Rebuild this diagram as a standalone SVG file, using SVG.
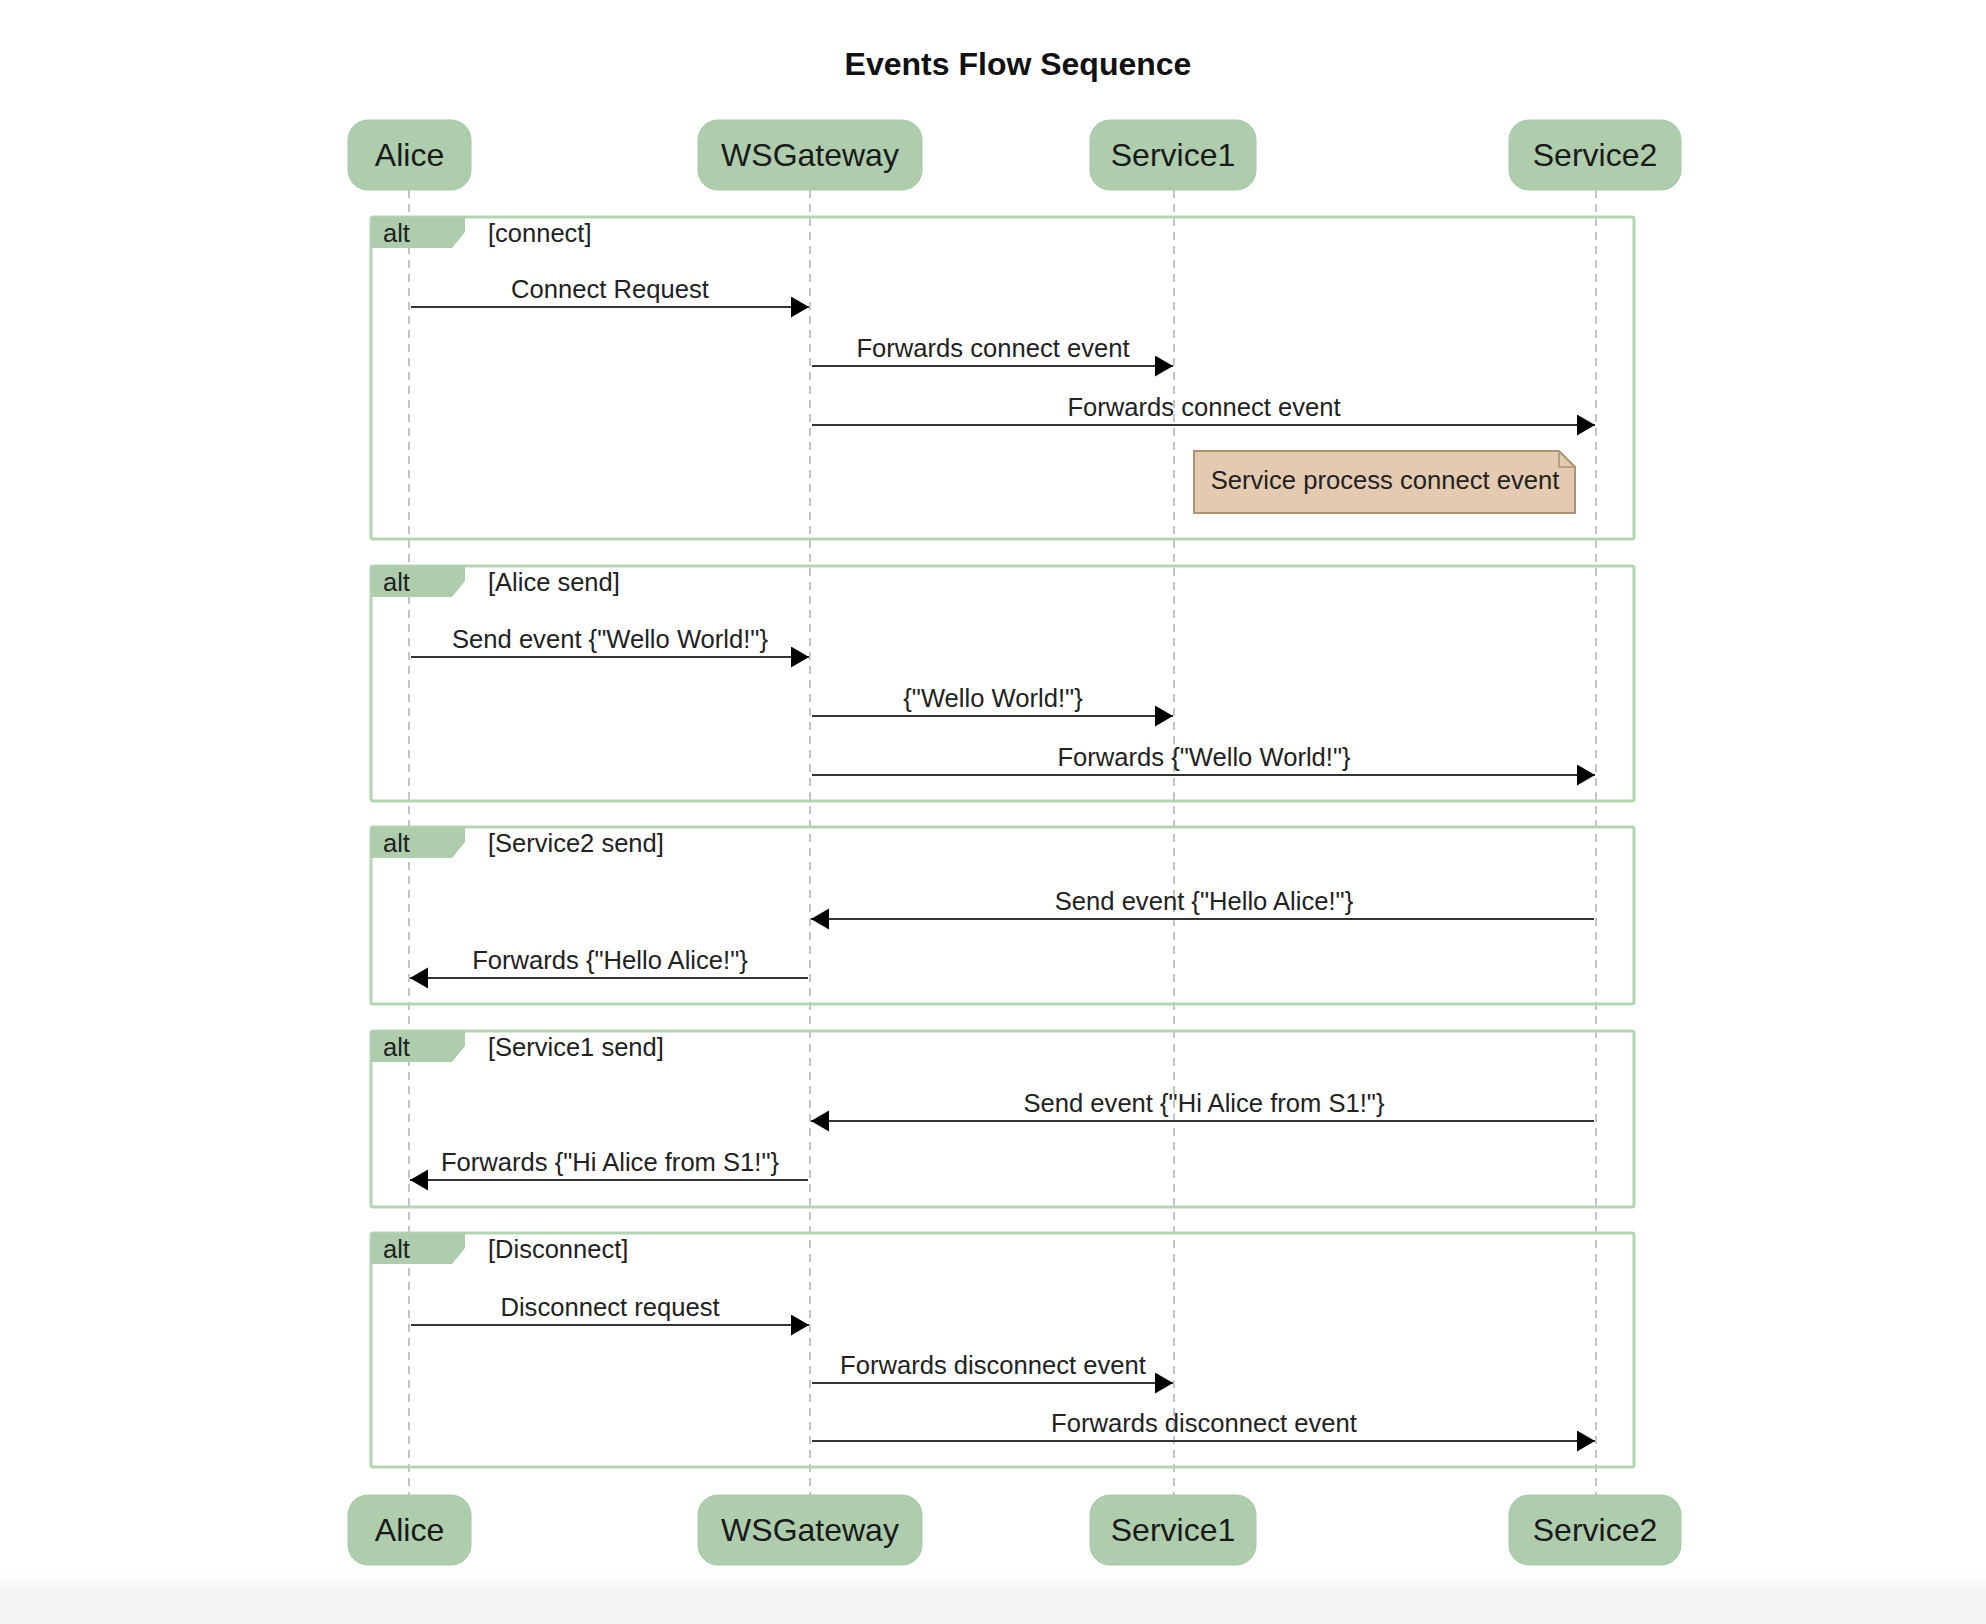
<svg xmlns="http://www.w3.org/2000/svg" width="1986" height="1624" viewBox="0 0 1986 1624">
<defs>
<style>
text{font-family:"Liberation Sans",Arial,sans-serif;fill:#222}
.title{font-size:32px;font-weight:bold;text-anchor:middle;fill:#111}
.pbox{fill:#aecdac;stroke:#a6c8a4;stroke-width:1}
.ptxt{font-size:32px;text-anchor:middle;fill:#1a1a1a}
.life{stroke:#c4c4c4;stroke-width:2;stroke-dasharray:8 6;fill:none}
.frame{fill:none;stroke:#b3d6b2;stroke-width:3}
.tab{fill:#aecdac}
.ftxt{font-size:25.5px}
.msg{stroke:#333;stroke-width:2.2;fill:none;marker-end:url(#ah)}
.mtxt{font-size:25.6px;text-anchor:middle}
.note{fill:#e3cab1;stroke:#ad9370;stroke-width:2}
</style>
<marker id="ah" markerUnits="userSpaceOnUse" markerWidth="20" markerHeight="22" refX="18" refY="10.5" orient="auto">
<path d="M0,0 L18,10.5 L0,21 z" fill="#000"/>
</marker>
<linearGradient id="bottomfade" x1="0" y1="0" x2="0" y2="1">
<stop offset="0" stop-color="#ffffff"/>
<stop offset="0.4" stop-color="#f5f5f5"/>
<stop offset="1" stop-color="#f3f3f3"/>
</linearGradient>
</defs>
<rect x="0" y="0" width="1986" height="1624" fill="#fff"/>
<rect x="0" y="1572" width="1986" height="52" fill="url(#bottomfade)"/>
<text class="title" x="1018" y="75">Events Flow Sequence</text>

<g id="lifelines">
<line class="life" x1="409" y1="190" x2="409" y2="1495"/>
<line class="life" x1="810" y1="190" x2="810" y2="1495"/>
<line class="life" x1="1174" y1="190" x2="1174" y2="1495"/>
<line class="life" x1="1596" y1="190" x2="1596" y2="1495"/>
</g>

<g id="frame-connect">
<rect class="frame" x="371" y="217" width="1263" height="322" rx="2"/>
<polygon class="tab" points="371,217 465,217 465,232 452,248 371,248"/>
<text class="ftxt" x="383" y="242">alt</text>
<text class="ftxt" x="488" y="242">[connect]</text>
</g>
<g id="frame-alice-send">
<rect class="frame" x="371" y="566" width="1263" height="235" rx="2"/>
<polygon class="tab" points="371,566 465,566 465,581 452,597 371,597"/>
<text class="ftxt" x="383" y="591">alt</text>
<text class="ftxt" x="488" y="591">[Alice send]</text>
</g>
<g id="frame-service2-send">
<rect class="frame" x="371" y="827" width="1263" height="177" rx="2"/>
<polygon class="tab" points="371,827 465,827 465,842 452,858 371,858"/>
<text class="ftxt" x="383" y="852">alt</text>
<text class="ftxt" x="488" y="852">[Service2 send]</text>
</g>
<g id="frame-service1-send">
<rect class="frame" x="371" y="1031" width="1263" height="176" rx="2"/>
<polygon class="tab" points="371,1031 465,1031 465,1046 452,1062 371,1062"/>
<text class="ftxt" x="383" y="1056">alt</text>
<text class="ftxt" x="488" y="1056">[Service1 send]</text>
</g>
<g id="frame-disconnect">
<rect class="frame" x="371" y="1233" width="1263" height="234" rx="2"/>
<polygon class="tab" points="371,1233 465,1233 465,1248 452,1264 371,1264"/>
<text class="ftxt" x="383" y="1258">alt</text>
<text class="ftxt" x="488" y="1258">[Disconnect]</text>
</g>

<g id="note-service-process">
<path class="note" d="M1194,451 L1559,451 L1575,467 L1575,513 L1194,513 Z"/>
<path d="M1559,451 L1559,467 L1575,467" fill="none" stroke="#ad9370" stroke-width="1.5"/>
<text class="mtxt" x="1385" y="489">Service process connect event</text>
</g>

<g id="participants-top">
<g id="p-alice-top"><rect class="pbox" x="348" y="120" width="123" height="70" rx="20"/><text class="ptxt" x="409.5" y="166">Alice</text></g>
<g id="p-wsgateway-top"><rect class="pbox" x="698" y="120" width="224" height="70" rx="20"/><text class="ptxt" x="810" y="166">WSGateway</text></g>
<g id="p-service1-top"><rect class="pbox" x="1090" y="120" width="166" height="70" rx="20"/><text class="ptxt" x="1173" y="166">Service1</text></g>
<g id="p-service2-top"><rect class="pbox" x="1509" y="120" width="172" height="70" rx="20"/><text class="ptxt" x="1595" y="166">Service2</text></g>
</g>
<g id="participants-bottom">
<g id="p-alice-bottom"><rect class="pbox" x="348" y="1495" width="123" height="70" rx="20"/><text class="ptxt" x="409.5" y="1541">Alice</text></g>
<g id="p-wsgateway-bottom"><rect class="pbox" x="698" y="1495" width="224" height="70" rx="20"/><text class="ptxt" x="810" y="1541">WSGateway</text></g>
<g id="p-service1-bottom"><rect class="pbox" x="1090" y="1495" width="166" height="70" rx="20"/><text class="ptxt" x="1173" y="1541">Service1</text></g>
<g id="p-service2-bottom"><rect class="pbox" x="1509" y="1495" width="172" height="70" rx="20"/><text class="ptxt" x="1595" y="1541">Service2</text></g>
</g>

<g id="connectors">
<line class="msg" x1="411" y1="307" x2="809" y2="307"/>
<text class="mtxt" x="610" y="298">Connect Request</text>
<line class="msg" x1="812" y1="366" x2="1173" y2="366"/>
<text class="mtxt" x="993" y="357">Forwards connect event</text>
<line class="msg" x1="812" y1="425" x2="1595" y2="425"/>
<text class="mtxt" x="1204" y="416">Forwards connect event</text>

<line class="msg" x1="411" y1="657" x2="809" y2="657"/>
<text class="mtxt" x="610" y="648">Send event {"Wello World!"}</text>
<line class="msg" x1="812" y1="716" x2="1173" y2="716"/>
<text class="mtxt" x="993" y="707">{"Wello World!"}</text>
<line class="msg" x1="812" y1="775" x2="1595" y2="775"/>
<text class="mtxt" x="1204" y="766">Forwards {"Wello World!"}</text>

<line class="msg" x1="1594" y1="919" x2="811" y2="919"/>
<text class="mtxt" x="1204" y="910">Send event {"Hello Alice!"}</text>
<line class="msg" x1="808" y1="978" x2="410" y2="978"/>
<text class="mtxt" x="610" y="969">Forwards {"Hello Alice!"}</text>

<line class="msg" x1="1594" y1="1121" x2="811" y2="1121"/>
<text class="mtxt" x="1204" y="1112">Send event {"Hi Alice from S1!"}</text>
<line class="msg" x1="808" y1="1180" x2="410" y2="1180"/>
<text class="mtxt" x="610" y="1171">Forwards {"Hi Alice from S1!"}</text>

<line class="msg" x1="411" y1="1325" x2="809" y2="1325"/>
<text class="mtxt" x="610" y="1316">Disconnect request</text>
<line class="msg" x1="812" y1="1383" x2="1173" y2="1383"/>
<text class="mtxt" x="993" y="1374">Forwards disconnect event</text>
<line class="msg" x1="812" y1="1441" x2="1595" y2="1441"/>
<text class="mtxt" x="1204" y="1432">Forwards disconnect event</text>
</g>
</svg>
